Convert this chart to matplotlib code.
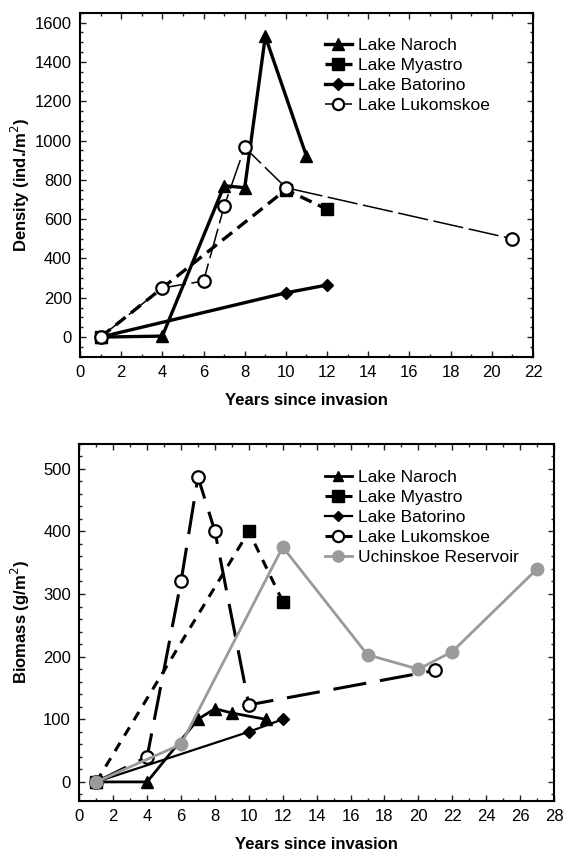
import matplotlib
matplotlib.use("Agg")
import matplotlib.pyplot as plt
from matplotlib.ticker import MultipleLocator

plt.rcParams['font.family'] = ['Liberation Sans', 'DejaVu Sans']
plt.rcParams['lines.scale_dashes'] = False

# ---- density panel ----
naroch_x_d = [1, 4, 7, 8, 9, 11]
naroch_d = [0, 5, 770, 760, 1530, 920]
myastro_x_d = [1, 10, 12]
myastro_d = [0, 750, 650]
batorino_x_d = [1, 10, 12]
batorino_d = [0, 225, 265]
lukom_x_d = [1, 4, 6, 7, 8, 10, 21]
lukom_d = [0, 250, 285, 665, 965, 760, 500]

# ---- biomass panel ----
naroch_x_b = [1, 4, 7, 8, 9, 11]
naroch_b = [0, 0, 100, 117, 110, 100]
myastro_x_b = [1, 10, 12]
myastro_b = [0, 400, 288]
batorino_x_b = [1, 10, 12]
batorino_b = [0, 80, 100]
lukom_x_b = [1, 4, 6, 7, 8, 10, 21]
lukom_b = [0, 40, 320, 487, 400, 123, 178]
uchin_x_b = [1, 6, 12, 17, 20, 22, 27]
uchin_b = [0, 60, 375, 203, 180, 208, 340]

grey = "#9a9a9a"
tick_fs = 12
leg_fs = 12.5
lab_fs = 12

fig = plt.figure(figsize=(5.66, 8.51), dpi=100)
ax1 = fig.add_axes([0.1413, 0.5808, 0.8004, 0.4042])
ax2 = fig.add_axes([0.1401, 0.0591, 0.8387, 0.4195])


def style_axes(ax, xmax, ymin, ymax, ymajor, yminor):
    ax.set_xlim(0, xmax)
    ax.set_ylim(ymin, ymax)
    ax.xaxis.set_major_locator(MultipleLocator(2))
    ax.xaxis.set_minor_locator(MultipleLocator(1))
    ax.yaxis.set_major_locator(MultipleLocator(ymajor))
    ax.yaxis.set_minor_locator(MultipleLocator(yminor))
    ax.tick_params(which='both', direction='in', top=True, right=True,
                   labelsize=tick_fs, width=1.0, color='#222222')
    ax.tick_params(which='major', length=4, pad=6)
    ax.tick_params(which='minor', length=2)
    for s in ax.spines.values():
        s.set_linewidth(1.5)
    ax.set_xlabel("Years since invasion", fontsize=lab_fs, fontweight='bold', labelpad=9)


leg_kw = dict(loc='upper left', frameon=False, fontsize=leg_fs, borderpad=0,
              handlelength=1.55, handletextpad=0.35, labelspacing=0.28, markerscale=0.9)

# top
ax1.plot(naroch_x_d, naroch_d, color='black', lw=2.4, marker='^', ms=9, label="Lake Naroch")
ax1.plot(myastro_x_d, myastro_d, color='black', lw=2.4, marker='s', ms=9,
         dashes=(9, 5), label="Lake Myastro")
ax1.plot(batorino_x_d, batorino_d, color='black', lw=2.4, marker='D', ms=6.5, label="Lake Batorino")
ax1.plot(lukom_x_d, lukom_d, color='black', lw=1.1, marker='o', ms=9, mfc='white',
         mec='black', mew=1.6, dashes=(22, 4), label="Lake Lukomskoe")
style_axes(ax1, 22, -100, 1650, 200, 50)
ax1.set_ylabel("Density (ind./m$^2$)", fontsize=lab_fs, fontweight='bold', labelpad=2)
ax1.legend(bbox_to_anchor=(0.521, 0.952), **leg_kw)

# bottom
ax2.plot(naroch_x_b, naroch_b, color='black', lw=2.0, marker='^', ms=8.5, label="Lake Naroch")
ax2.plot(myastro_x_b, myastro_b, color='black', lw=2.2, marker='s', ms=9,
         dashes=(7, 6), label="Lake Myastro")
ax2.plot(batorino_x_b, batorino_b, color='black', lw=1.6, marker='D', ms=6, label="Lake Batorino")
ax2.plot(lukom_x_b, lukom_b, color='black', lw=2.2, marker='o', ms=9, mfc='white',
         mec='black', mew=1.6, dashes=(24, 10), label="Lake Lukomskoe")
ax2.plot(uchin_x_b, uchin_b, color=grey, lw=2.0, marker='o', ms=9, label="Uchinskoe Reservoir")
style_axes(ax2, 28, -30, 540, 100, 20)
ax2.set_ylabel("Biomass (g/m$^2$)", fontsize=lab_fs, fontweight='bold', labelpad=8)
ax2.legend(bbox_to_anchor=(0.4986, 0.952), **leg_kw)

fig.savefig("out.png", dpi=100)
